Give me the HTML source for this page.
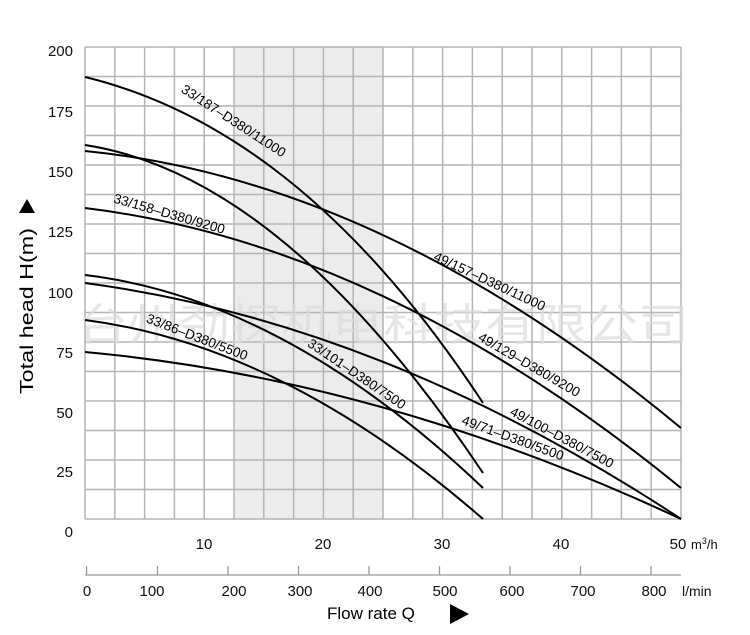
<!DOCTYPE html>
<html><head><meta charset="utf-8"><style>
html,body{margin:0;padding:0;background:#fff;}
svg{display:block;font-family:"Liberation Sans",Arial,sans-serif;}
</style></head><body>
<svg width="750" height="635" viewBox="0 0 750 635" xmlns="http://www.w3.org/2000/svg">
<rect x="0" y="0" width="750" height="635" fill="#fff"/>
<rect x="233.4" y="47" width="149" height="472" fill="#ececec"/>
<g stroke="#b4b4b4" stroke-width="1.5" fill="none">
<path d="M85 47V519M114.8 47V519M144.6 47V519M174.4 47V519M204.2 47V519M234 47V519M263.8 47V519M293.6 47V519M323.4 47V519M353.2 47V519M383 47V519M412.8 47V519M442.6 47V519M472.4 47V519M502.2 47V519M532 47V519M561.8 47V519M591.6 47V519M621.4 47V519M651.2 47V519M681 47V519"/>
<path d="M85 47H681M85 76.5H681M85 106H681M85 135.5H681M85 165H681M85 194.5H681M85 224H681M85 253.5H681M85 283H681M85 312.5H681M85 342H681M85 371.5H681M85 401H681M85 430.5H681M85 460H681M85 489.5H681M85 519H681"/>
</g>
<text x="383" y="340" font-family="'Noto Sans CJK SC',sans-serif" font-size="44" fill="#dcdcdc" fill-opacity="0.7" text-anchor="middle" textLength="612" lengthAdjust="spacingAndGlyphs">台州劲探机电科技有限公司</text>
<g stroke="#000" stroke-width="2" fill="none">
<path d="M85 77C200 105 340 185 483 403"/>
<path d="M85 151Q383 180.7 681 428"/>
<path d="M85 145Q284 175.6 483 473"/>
<path d="M85 208Q383 244.4 681 488"/>
<path d="M85 275Q284 298.7 483 488"/>
<path d="M85 283Q383 322.6 681 519"/>
<path d="M85 320Q284 345.5 483 519"/>
<path d="M85 352Q383 379.5 681 519"/>
</g>
<g font-size="13.5" fill="#000" text-anchor="middle">
<text transform="translate(229,128) rotate(33)" y="-4">33/187–D380/11000</text>
<text transform="translate(167,222) rotate(16)" y="-4">33/158–D380/9200</text>
<text transform="translate(486,289) rotate(25)" y="-4">49/157–D380/11000</text>
<text transform="translate(525,372) rotate(30)" y="-4">49/129–D380/9200</text>
<text transform="translate(558,445) rotate(28)" y="-4">49/100–D380/7500</text>
<text transform="translate(510,446) rotate(20)" y="-4">49/71–D380/5500</text>
<text transform="translate(352,381) rotate(34)" y="-4">33/101–D380/7500</text>
<text transform="translate(194,345) rotate(21)" y="-4">33/86–D380/5500</text>
</g>
<g font-size="15" fill="#111" text-anchor="end">
<text x="73" y="56">200</text>
<text x="73" y="117">175</text>
<text x="73" y="177">150</text>
<text x="73" y="237">125</text>
<text x="73" y="298">100</text>
<text x="73" y="358">75</text>
<text x="73" y="418">50</text>
<text x="73" y="477">25</text>
<text x="73" y="537">0</text>
</g>
<g font-size="15" fill="#111" text-anchor="middle">
<text x="204" y="549">10</text>
<text x="323" y="549">20</text>
<text x="442" y="549">30</text>
<text x="561" y="549">40</text>
<text x="678" y="549">50</text>
</g>
<text x="691" y="549" font-size="13" fill="#111">m<tspan font-size="9" dy="-5">3</tspan><tspan dy="5">/h</tspan></text>
<g stroke="#999" stroke-width="1.3" fill="none">
<path d="M85 575H681"/>
<path d="M86.6 566V575M157.5 566V575M228 566V575M298.5 566V575M369 566V575M439.5 566V575M510 566V575M580.5 566V575M651 566V575"/>
</g>
<g font-size="15" fill="#111" text-anchor="middle">
<text x="87" y="596">0</text>
<text x="152" y="596">100</text>
<text x="234" y="596">200</text>
<text x="300" y="596">300</text>
<text x="370" y="596">400</text>
<text x="445" y="596">500</text>
<text x="512" y="596">600</text>
<text x="583" y="596">700</text>
<text x="654" y="596">800</text>
</g>
<text x="682" y="596" font-size="14" fill="#111">l/min</text>
<text x="327" y="619" font-size="17" fill="#000">Flow rate Q</text>
<path d="M450 604L469 614L450 624Z" fill="#000"/>
<text transform="translate(33,394) rotate(-90)" font-size="18" fill="#000" textLength="166" lengthAdjust="spacingAndGlyphs">Total head H(m)</text>
<path d="M19 213L27 199L35 213Z" fill="#000"/>
</svg>
</body></html>
